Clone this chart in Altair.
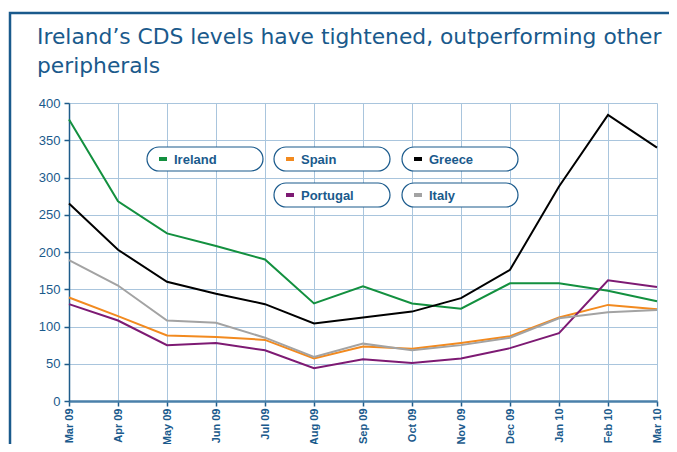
import altair as alt
import pandas as pd

months = ["Mar 09", "Apr 09", "May 09", "Jun 09", "Jul 09", "Aug 09", "Sep 09",
          "Oct 09", "Nov 09", "Dec 09", "Jan 10", "Feb 10", "Mar 10"]
ireland = [378, 268, 225, 208, 190, 131, 154, 131, 124, 158, 158, 148, 134]
spain = [139, 114, 88, 86, 82, 57, 73, 70, 78, 87, 112, 129, 123]
greece = [265, 203, 160, 144, 130, 104, 112, 120, 138, 176, 288, 384, 340]
portugal = [130, 108, 75, 78, 68, 44, 56, 51, 57, 71, 91, 162, 153]
italy = [189, 155, 108, 105, 85, 59, 77, 68, 75, 85, 111, 119, 122]

series_names = ["Ireland", "Spain", "Greece", "Portugal", "Italy"]
series_colors = ["#13903f", "#f28a1f", "#000000", "#7d1a73", "#a3a3a3"]
series_values = [ireland, spain, greece, portugal, italy]

title_lines = ["Ireland\u2019s CDS levels have tightened, outperforming other", "peripherals"]

NAVY = "#1a5a8c"

rows = []
for name, vals in zip(series_names, series_values):
    for m, v in zip(months, vals):
        rows.append({"month": m, "value": v, "series": name})
df = pd.DataFrame(rows)

color_scale = alt.Scale(domain=series_names, range=series_colors)

lines = alt.Chart(df).mark_line(strokeWidth=2).encode(
    x=alt.X("month:N", sort=months, scale=alt.Scale(type="point", padding=0),
            axis=alt.Axis(title=None, labelAngle=-90, labelAlign="right", labelBaseline="middle",
                          labelFontSize=11, labelFontWeight="bold", labelColor=NAVY,
                          labelFont="Liberation Sans", labelPadding=2,
                          domainColor="#4a80aa", domainWidth=2.5, tickColor="#1f5c8b",
                          tickSize=5, tickWidth=1.5, grid=True, gridColor="#a9c5dd",
                          gridWidth=1)),
    y=alt.Y("value:Q", scale=alt.Scale(domain=[0, 400], nice=False),
            axis=alt.Axis(title=None, values=list(range(0, 401, 50)), labelFontSize=13,
                          labelColor=NAVY, labelFont="Liberation Sans", labelPadding=4,
                          domainColor="#1f5c8b", domainWidth=1.5, tickColor="#1f5c8b",
                          tickSize=5, tickWidth=1.5, grid=True, gridColor="#a9c5dd",
                          gridWidth=1)),
    color=alt.Color("series:N", scale=color_scale, legend=None),
    order=alt.Order("series:N"),
)

# custom legend boxes (decoration)
leg = pd.DataFrame({
    "series": series_names,
    "bx": [78, 205, 333, 205, 333],
    "by": [44, 44, 44, 80, 80],
})
leg["bx2"] = leg["bx"] + 116
leg["by2"] = leg["by"] + 24
leg["sx"] = leg["bx"] + 12
leg["sx2"] = leg["bx"] + 20
leg["sy"] = leg["by"] + 10
leg["sy2"] = leg["by"] + 14
leg["tx"] = leg["bx"] + 27
leg["ty"] = leg["by"] + 12.5

boxes = alt.Chart(leg).mark_rect(fill="white", stroke=NAVY, strokeWidth=1.2, cornerRadius=12).encode(
    x=alt.X("bx:Q", scale=None), x2="bx2:Q",
    y=alt.Y("by:Q", scale=None), y2="by2:Q",
)
syms = alt.Chart(leg).mark_rect().encode(
    x=alt.X("sx:Q", scale=None), x2="sx2:Q",
    y=alt.Y("sy:Q", scale=None), y2="sy2:Q",
    color=alt.Color("series:N", scale=color_scale, legend=None),
)
texts = alt.Chart(leg).mark_text(align="left", baseline="middle", fontSize=13,
                                 fontWeight="bold", font="Liberation Sans", color=NAVY).encode(
    x=alt.X("tx:Q", scale=None), y=alt.Y("ty:Q", scale=None), text="series:N",
)

frame = alt.Chart(pd.DataFrame({"k": [0]})).mark_rect(
    fill="transparent", stroke=NAVY, strokeWidth=2.5, clip=False).encode(
    x=alt.value(-59), x2=alt.value(700), y=alt.value(-90), y2=alt.value(500),
)

tdf = pd.DataFrame({"t": title_lines, "ty": [-59, -30]})
title = alt.Chart(tdf).mark_text(align="left", baseline="alphabetic", fontSize=21.8,
                                 font="DejaVu Sans", color=NAVY, clip=False).encode(
    x=alt.value(-32), y=alt.Y("ty:Q", scale=None), text="t:N",
)

chart = alt.layer(frame, lines, boxes, syms, texts, title).resolve_scale(
    x="independent", y="independent", color="shared"
).properties(
    width=588, height=298,
    autosize=alt.AutoSizeParams(type="none"),
    padding={"left": 61, "top": 95, "right": 12, "bottom": 43},
).configure_view(strokeWidth=0)

chart.save("out.html", embed_options={"renderer": "svg", "actions": False})
